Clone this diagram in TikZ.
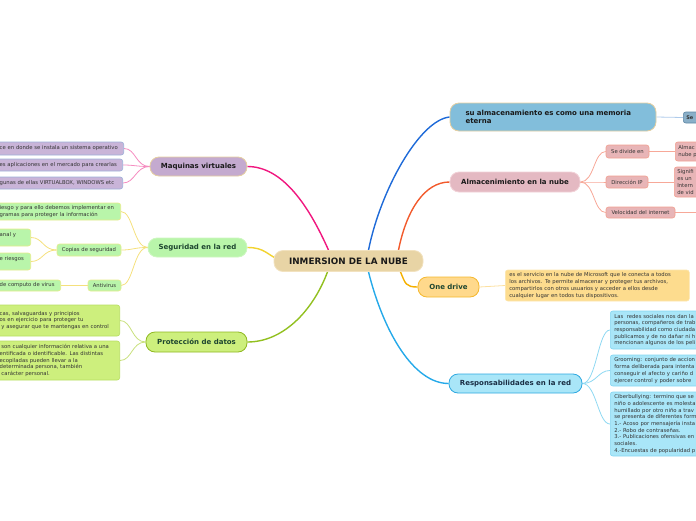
\documentclass[tikz,border=0pt]{standalone}
\usepackage{fontspec}
\setmainfont{DejaVu Sans}
\usepackage{tikz}
\usetikzlibrary{positioning,shapes,calc}
\pgfdeclarelayer{background}
\pgfsetlayers{background,main}
\definecolor{rootTan}{HTML}{E8D4A5}
\definecolor{rootEdge}{HTML}{F2E2BF}
\definecolor{tanEdge}{HTML}{E6CFA0}
\definecolor{memBlue}{HTML}{82BEDB}
\definecolor{seBlue}{HTML}{8AAFC8}
\definecolor{seEdge}{HTML}{5F87A5}
\definecolor{almPink}{HTML}{E4B9C2}
\definecolor{almEdge}{HTML}{F2D2D8}
\definecolor{salmon}{HTML}{E8B5B7}
\definecolor{salmonEdge}{HTML}{F2A090}
\definecolor{odYellow}{HTML}{FFD98C}
\definecolor{odEdge}{HTML}{F5B82E}
\definecolor{oddYellow}{HTML}{FDDC8E}
\definecolor{oddEdge}{HTML}{FCE6AE}
\definecolor{respCyan}{HTML}{A9E6F8}
\definecolor{respEdge}{HTML}{2DA8E0}
\definecolor{respSubEdge}{HTML}{85D6F2}
\definecolor{maqLilac}{HTML}{C4AACF}
\definecolor{lilac}{HTML}{C9B4D8}
\definecolor{lilacEdge}{HTML}{9DB0D8}
\definecolor{segGreen}{HTML}{B9F5AA}
\definecolor{segEdge}{HTML}{CDF7C0}
\definecolor{segSubEdge}{HTML}{E6EC8C}
\definecolor{protLime}{HTML}{CDEF7D}
\definecolor{protEdge}{HTML}{8FB820}
\definecolor{protSubEdge}{HTML}{B8DE62}
\definecolor{darkGreen}{HTML}{1E4630}
\definecolor{navyText}{HTML}{1A2E44}
\definecolor{magentaLine}{HTML}{F0177F}
\definecolor{yellowLine}{HTML}{F2D330}
\definecolor{greenLine}{HTML}{92C020}
\definecolor{blueLine}{HTML}{1E6AD8}
\definecolor{redLine}{HTML}{F25A2C}
\definecolor{orangeLine}{HTML}{F5B000}
\definecolor{cyanLine}{HTML}{25A9E9}
\definecolor{maqSub}{HTML}{F58CC0}
\definecolor{segSub}{HTML}{F5E07C}
\definecolor{protSub}{HTML}{C8E07C}
\definecolor{almSub}{HTML}{F7A898}
\definecolor{respSub}{HTML}{8ED8F2}
\definecolor{memSub}{HTML}{AFCBEB}
\definecolor{odSub}{HTML}{FCE0A0}

\begin{document}
\begin{tikzpicture}[x=1pt,y=-1pt,
    topic/.style={draw,rounded corners=9pt,line width=0.8pt,inner sep=0pt,text=black!90,font=\bfseries\fontsize{7}{8.4}\selectfont},
    leafbox/.style={draw,rounded corners=2.5pt,line width=0.6pt,inner ysep=0pt,inner xsep=3pt,align=left,text=black!80,font=\fontsize{5.3}{6.7}\selectfont},
    main edge/.style={line width=1.4pt},
    sub edge/.style={line width=0.8pt}]
\useasboundingbox (0,0) rectangle (696,520);
\clip (0,0) rectangle (696,520);
\node[topic,fill=rootTan,draw=rootEdge,minimum width=149pt,minimum height=21pt,font=\bfseries\fontsize{8.8}{10}\selectfont] (root) at (348.5,261) {INMERSION DE LA NUBE};
\node[topic,fill=memBlue,draw=tanEdge,text width=175pt,inner xsep=15.5pt,minimum height=28pt,align=left,font=\bfseries\fontsize{7}{8.6}\selectfont] (mem) at (553,117) {su almacenamiento es como una memoria\\eterna};
\node[leafbox,anchor=west,fill=seBlue,draw=seEdge,minimum height=11pt,text width=20pt,font=\bfseries\fontsize{5}{5.5}\selectfont] (se) at (683,117.5) {Se};
\node[topic,fill=almPink,draw=almEdge,minimum width=130pt,minimum height=20pt] (alm) at (515,182) {Almacenimiento en la nube};
\node[leafbox,fill=salmon,draw=salmonEdge,minimum width=43pt,minimum height=13pt] (a1) at (627.5,151.5) {Se divide en};
\node[leafbox,fill=salmon,draw=salmonEdge,minimum width=42pt,minimum height=12pt] (a2) at (627,182) {Dirección IP};
\node[leafbox,fill=salmon,draw=salmonEdge,minimum width=69pt,minimum height=11pt] (a3) at (640.5,212.5) {Velocidad del internet};
\node[leafbox,anchor=west,fill=salmon,draw=salmonEdge,text width=60pt,minimum height=19pt] (a1x) at (675,151.5) {Almac\\nube p};
\node[leafbox,anchor=west,fill=salmon,draw=salmonEdge,text width=60pt,minimum height=30pt] (a2x) at (674,182) {Signifi\\es un\\Intern\\de vid};
\coordinate (a3x) at (696,212.5);
\node[topic,fill=odYellow,draw=odEdge,text=darkGreen,minimum width=61pt,minimum height=20pt] (od) at (448.5,287) {One drive};
\node[leafbox,anchor=west,fill=oddYellow,draw=oddEdge,text width=176pt,inner xsep=4pt,minimum height=31pt] (odd) at (505,285.5) {es el servicio en la nube de Microsoft que le conecta a todos\\los archivos. Te permite almacenar y proteger tus archivos,\\compartirlos con otros usuarios y acceder a ellos desde\\cualquier lugar en todos tus dispositivos.};
\node[topic,fill=respCyan,draw=respEdge,text=navyText,minimum width=133pt,minimum height=19pt] (resp) at (515.5,383.5) {Responsabilidades en la red};
\node[leafbox,anchor=west,fill=respCyan,draw=respSubEdge,text width=100pt,inner xsep=4pt,minimum height=38pt] (r1) at (610,330) {Las\ \ redes sociales nos dan la\\personas, compañeros de trab\\responsabilidad como ciudada\\publicamos y de no dañar ni h\\mencionan algunos de los peli};
\node[leafbox,anchor=west,fill=respCyan,draw=respSubEdge,text width=100pt,inner xsep=4pt,minimum height=31pt] (r2) at (610,370.5) {Grooming: conjunto de accion\\forma deliberada para intenta\\conseguir el afecto y cariño d\\ejercer control y poder sobre};
\node[leafbox,anchor=west,fill=respCyan,draw=respSubEdge,text width=100pt,inner xsep=4pt,minimum height=64pt] (r3) at (610,424) {Ciberbullying: termino que se\\niño o adolescente es molesta\\humillado por otro niño a trav\\se presenta de diferentes form\\1.- Acoso por mensajería insta\\2.- Robo de contraseñas.\\3.- Publicaciones ofensivas en\\sociales.\\4.-Encuestas de popularidad p};
\node[topic,fill=maqLilac,draw=tanEdge,minimum width=97pt,minimum height=19pt] (maq) at (198.5,166.5) {Maquinas virtuales};
\node[leafbox,anchor=east,fill=lilac,draw=lilacEdge,text width=121pt,minimum height=13pt] (m1) at (124,148.5) {ce en donde se instala un sistema operativo};
\node[leafbox,anchor=east,fill=lilac,draw=lilacEdge,text width=120pt,minimum height=12pt] (m2) at (123,165) {es aplicaciones en el mercado para crearlas};
\node[leafbox,anchor=east,fill=lilac,draw=lilacEdge,text width=120pt,minimum height=12pt] (m3) at (123,183) {gunas de ellas VIRTUALBOX, WINDOWS etc};
\node[topic,fill=segGreen,draw=segEdge,text=darkGreen,minimum width=99pt,minimum height=19pt] (seg) at (197.5,247.5) {Seguridad en la red};
\node[leafbox,anchor=east,fill=segGreen,draw=segSubEdge,text width=118pt,minimum height=17pt] (s1) at (121,211.5) {iesgo y para ello debemos implementar en\\gramas para proteger la información};
\node[leafbox,fill=segGreen,draw=segSubEdge,minimum width=64pt,minimum height=12pt] (cop) at (89,250) {Copias de seguridad};
\node[leafbox,fill=segGreen,draw=segSubEdge,minimum width=33pt,minimum height=11pt] (anti) at (104.5,285.5) {Antivirus};
\node[leafbox,anchor=east,fill=segGreen,draw=segSubEdge,text width=28pt,minimum height=17pt] (c1) at (31,237.5) {anal y\\\mbox{}};
\node[leafbox,anchor=east,fill=segGreen,draw=segSubEdge,text width=28pt,minimum height=17pt] (c2) at (31,261.5) {e riesgos\\\mbox{}};
\node[leafbox,anchor=east,fill=segGreen,draw=segSubEdge,text width=58pt,minimum height=11pt] (av1) at (61,285.5) {de computo de virus};
\node[topic,fill=protLime,draw=protEdge,text=darkGreen,minimum width=101pt,minimum height=20pt] (prot) at (196.5,342) {Protección de datos};
\node[leafbox,anchor=east,fill=protLime,draw=protSubEdge,text width=117pt,minimum height=31pt] (p1) at (120,320.5) {cas, salvaguardas y principios\\os en ejercicio para proteger tu\\\ y asegurar que te mantengas en control};
\node[leafbox,anchor=east,fill=protLime,draw=protSubEdge,text width=117pt,minimum height=39pt] (p2) at (120,360.5) {\ son cualquier información relativa a una\\entificada o identificable. Las distintas\\ecopiladas pueden llevar a la\\determinada persona, también\\\ carácter personal.};
\begin{pgfonlayer}{background}
\draw[main edge,draw=magentaLine] ([xshift=-20pt]root.north) .. controls +(-20,-45) and +(35,0) .. (maq.east);
\draw[main edge,draw=yellowLine] (seg.east) .. controls +(18,0) and +(-15,-6) .. ([xshift=8pt]root.west);
\draw[main edge,draw=greenLine] ([xshift=-21pt]root.south) .. controls +(-15,40) and +(35,0) .. (prot.east);
\draw[main edge,draw=blueLine] ([xshift=20pt]root.north) .. controls +(12,-60) and +(-30,3) .. (mem.west);
\draw[main edge,draw=redLine] ([xshift=50pt]root.north) .. controls +(8,-40) and +(-25,0) .. (alm.west);
\draw[main edge,draw=orangeLine] ([xshift=52pt]root.south) .. controls +(5,12) and +(-12,0) .. (od.west);
\draw[main edge,draw=cyanLine] ([xshift=20pt]root.south) .. controls +(15,60) and +(-35,0) .. (resp.west);
\draw[sub edge,draw=memSub] (mem.east) -- (se.west);
\foreach \n in {a1,a2,a3} \draw[sub edge,draw=almSub] (alm.east) .. controls +(14,0) and +(-12,0) .. (\n.west);
\draw[sub edge,draw=almSub] (a1.east) -- (a1x.west);
\draw[sub edge,draw=almSub] (a2.east) -- (a2x.west);
\draw[sub edge,draw=almSub] (a3.east) -- (a3x);
\draw[sub edge,draw=odSub] (od.east) -- (odd.west);
\foreach \n in {r1,r2,r3} \draw[sub edge,draw=respSub] (resp.east) .. controls +(14,0) and +(-12,0) .. (\n.west);
\foreach \n in {m1,m2,m3} \draw[sub edge,draw=maqSub] (maq.west) .. controls +(-14,0) and +(12,0) .. (\n.east);
\foreach \n in {s1,cop,anti} \draw[sub edge,draw=segSub] (seg.west) .. controls +(-14,0) and +(12,0) .. (\n.east);
\foreach \n in {c1,c2} \draw[sub edge,draw=segSub] (cop.west) .. controls +(-14,0) and +(12,0) .. (\n.east);
\draw[sub edge,draw=segSub] (anti.west) -- (av1.east);
\foreach \n in {p1,p2} \draw[sub edge,draw=protSub] (prot.west) .. controls +(-14,0) and +(12,0) .. (\n.east);
\end{pgfonlayer}
\end{tikzpicture}
\end{document}
